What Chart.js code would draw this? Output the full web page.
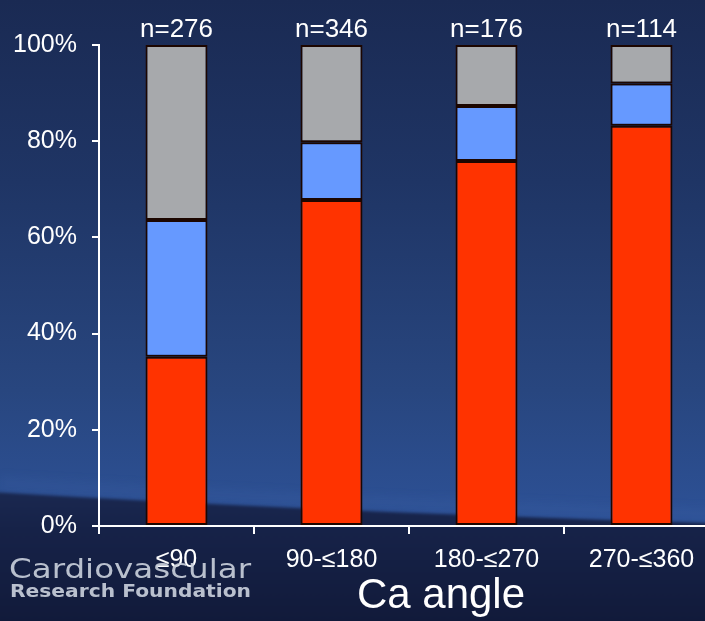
<!DOCTYPE html>
<html>
<head>
<meta charset="utf-8">
<script src="https://cdn.jsdelivr.net/npm/chart.js@4/dist/chart.umd.min.js"></script>
<style>
  html, body { margin: 0; padding: 0; background: #152045; overflow: hidden; }
  #wrap { width: 705px; height: 621px; overflow: hidden; }
  canvas { display: block; }
</style>
</head>
<body>
<div id="wrap"><canvas id="c" width="725" height="621"></canvas></div>
<script>
// Calcium angle groups and the share of each outcome (percent of lesions)
const categories = ['≤90', '90-≤180', '180-≤270', '270-≤360'];
const sampleSizes = ['n=276', 'n=346', 'n=176', 'n=114'];
const redShare  = [35.2, 67.8, 75.9, 83.2];
const blueShare = [28.4, 12.0, 11.4, 8.8];
const grayShare = [36.4, 20.2, 12.7, 8.0];
const yTicks = [0, 20, 40, 60, 80, 100];
const axisTitle = 'Ca angle';

const FONT = "'Liberation Sans', Arial, sans-serif";

// slide-style backdrop: navy gradient with a darker sweep along the bottom
const backdrop = {
  id: 'backdrop',
  beforeDraw(chart) {
    const { ctx, width, height } = chart;
    ctx.save();
    const g = ctx.createLinearGradient(0, 0, 0, 520);
    g.addColorStop(0, '#1a2a53');
    g.addColorStop(0.35, '#1f3565');
    g.addColorStop(0.75, '#28467f');
    g.addColorStop(1, '#2d5196');
    ctx.fillStyle = g;
    ctx.fillRect(0, 0, width, height);

    // faint lighter band just above the sweep
    ctx.filter = 'blur(4px)';
    ctx.fillStyle = 'rgba(80,120,190,0.10)';
    ctx.beginPath();
    ctx.moveTo(0, 476);
    ctx.quadraticCurveTo(320, 496, width, 508);
    ctx.lineTo(width, 520);
    ctx.quadraticCurveTo(320, 508, 0, 490);
    ctx.closePath();
    ctx.fill();

    // dark sweep
    ctx.filter = 'blur(1.5px)';
    const d = ctx.createLinearGradient(0, 490, 0, height);
    d.addColorStop(0, '#1a2850');
    d.addColorStop(0.3, '#162248');
    d.addColorStop(1, '#111a3a');
    ctx.fillStyle = d;
    ctx.beginPath();
    ctx.moveTo(-10, 492);
    ctx.quadraticCurveTo(320, 512, width + 10, 524);
    ctx.lineTo(width + 10, height + 10);
    ctx.lineTo(-10, height + 10);
    ctx.closePath();
    ctx.fill();
    ctx.restore();
  }
};

// sample size above each bar, axis title and foundation mark
const annotations = {
  id: 'annotations',
  afterDraw(chart) {
    const { ctx } = chart;
    const meta = chart.getDatasetMeta(2);
    ctx.save();
    ctx.fillStyle = '#ffffff';
    ctx.font = '26px ' + FONT;
    ctx.textAlign = 'center';
    ctx.textBaseline = 'alphabetic';
    meta.data.forEach((bar, i) => {
      ctx.fillText(sampleSizes[i], bar.x, 37);
    });

    ctx.font = '42px ' + FONT;
    ctx.fillText(axisTitle, 441, 608);

    // foundation wordmark
    ctx.fillStyle = 'rgba(200,206,218,0.92)';
    ctx.textAlign = 'left';
    ctx.filter = 'blur(0.4px)';
    ctx.font = "27px 'DejaVu Sans', sans-serif";
    let w = ctx.measureText('Cardiovascular').width;
    ctx.save();
    ctx.translate(9, 578);
    ctx.scale(242 / w, 1);
    ctx.fillText('Cardiovascular', 0, 0);
    ctx.restore();
    ctx.font = "bold 17px 'DejaVu Sans', sans-serif";
    w = ctx.measureText('Research Foundation').width;
    ctx.save();
    ctx.translate(10, 597);
    ctx.scale(241 / w, 1);
    ctx.fillText('Research Foundation', 0, 0);
    ctx.restore();
    ctx.restore();
  }
};

const barStyle = { borderColor: '#1c0600', borderWidth: 2, borderSkipped: false,
                   barPercentage: 0.4, categoryPercentage: 1.0 };

new Chart(document.getElementById('c'), {
  type: 'bar',
  data: {
    labels: categories,
    datasets: [
      Object.assign({ label: 'red', data: redShare, backgroundColor: '#ff3300' }, barStyle),
      Object.assign({ label: 'blue', data: blueShare, backgroundColor: '#6699ff' }, barStyle),
      Object.assign({ label: 'gray', data: grayShare, backgroundColor: '#a7a9ac' }, barStyle)
    ]
  },
  options: {
    responsive: false,
    animation: false,
    layout: { padding: { top: 45, left: 0, right: 6, bottom: 0 } },
    plugins: { legend: { display: false }, tooltip: { enabled: false }, title: { display: false } },
    scales: {
      x: {
        stacked: true,
        afterFit(scale) { scale.height = 95; },
        grid: { display: true, drawOnChartArea: false, drawTicks: true, tickLength: 8,
                color: '#ffffff', lineWidth: 2, offset: true },
        border: { display: true, color: '#ffffff', width: 2 },
        ticks: { color: '#ffffff', font: { family: FONT, size: 25 }, padding: 11, maxRotation: 0 }
      },
      y: {
        stacked: true,
        min: 0,
        max: 100,
        afterFit(scale) { scale.width = 99; },
        afterBuildTicks(scale) { scale.ticks = yTicks.map(v => ({ value: v })); },
        grid: { display: true, drawOnChartArea: false, drawTicks: true, tickLength: 7,
                color: '#ffffff', lineWidth: 2 },
        border: { display: true, color: '#ffffff', width: 2 },
        ticks: { color: '#ffffff', font: { family: FONT, size: 25 }, padding: 15,
                 callback: v => v + '%' }
      }
    }
  },
  plugins: [backdrop, annotations]
});
</script>
</body>
</html>
